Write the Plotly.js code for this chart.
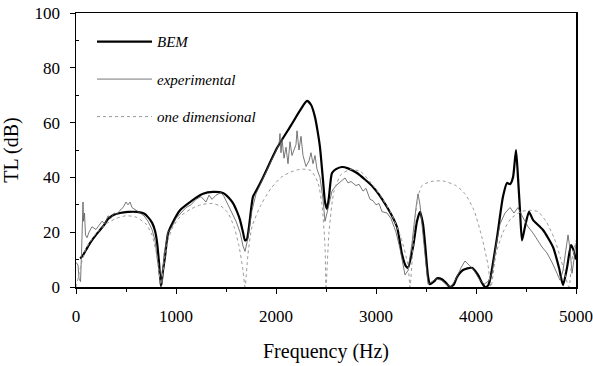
<!DOCTYPE html>
<html>
<head>
<meta charset="utf-8">
<script src="https://cdn.plot.ly/plotly-3.0.1.min.js"></script>
<style>html,body{margin:0;padding:0;background:#fff;}#chart{width:593px;height:366px;}</style>
</head>
<body>
<div id="chart"></div>
<script>
// BEM prediction
var bemFreq = [40,60,100,140,200,240,280,320,370,440,520,610,680,720,760,790,810,830,850,870,890,920,970,1040,1140,1270,1370,1470,1530,1570,1610,1640,1670,1690,1710,1730,1770,1800,1870,2010,2150,2250,2310,2350,2390,2420,2440,2470,2490,2510,2530,2560,2600,2660,2720,2810,2970,3110,3210,3260,3300,3320,3370,3410,3440,3470,3490,3520,3540,3580,3610,3660,3700,3740,3780,3810,3870,3960,4020,4060,4090,4120,4140,4210,4270,4310,4340,4370,4400,4420,4440,4460,4490,4530,4570,4670,4770,4830,4870,4910,4950,4970,5000];
var bemTL   = [10.5,11,13.5,16,19,20.8,22.6,24.8,26.2,27,27.4,27.4,26.8,25.5,23.5,20.5,16.5,9,0,6,11,19.5,23.7,28,31,34,34.7,34.3,32.5,30.6,27.5,24.5,20,17,17.5,22,33,35,40,50.7,59,65,67.9,66.5,62,56,51,39,31,28.5,33,41.6,43,43.8,43.3,41.6,36.5,29.2,21.9,12,7.5,7,14.6,24,27.4,23,16,4,1,2,3.2,2.8,1.5,0,1,3.6,6.2,7,4.4,1.5,0,0.5,2.6,18,33,38,37.5,40,50,40,28,17,22,27.4,24.5,20.8,14.6,7,0.7,7,15.3,14,10];

// experimental
var expFreq = [0,20,30,45,55,65,70,75,85,95,110,130,160,200,230,260,290,320,350,380,410,440,470,500,520,540,560,600,640,680,720,760,790,820,845,860,880,920,960,1000,1050,1100,1150,1200,1250,1300,1330,1360,1400,1450,1480,1520,1560,1600,1640,1670,1690,1720,1760,1800,1850,1900,1950,2000,2030,2040,2050,2060,2080,2100,2120,2140,2160,2200,2210,2230,2250,2270,2300,2330,2350,2370,2390,2410,2440,2470,2490,2510,2540,2560,2600,2650,2690,2720,2750,2800,2830,2870,2900,2940,2970,3000,3030,3060,3110,3150,3200,3240,3270,3290,3320,3360,3400,3420,3440,3470,3500,3520,3560,3600,3650,3700,3750,3800,3850,3890,3930,3980,4030,4080,4120,4160,4200,4240,4290,4340,4380,4420,4460,4520,4570,4620,4660,4710,4760,4810,4840,4870,4900,4920,4940,4960,4980,5000];
var expTL   = [9,8,3,2,12,28,31,24,27,19,18,20,22,21,22.5,24,23,26,25,27,26.5,28,29,31,30,31,29,28,27,26,24,21,17,9,1,2,12,20,22,25,27,29,30,32,33,31,33.5,32,33.5,34.5,33,30,27,24,20,15,13,18,28,34,38,42,46,50,52,56,49,54,47,51,45,53,48,52,57,50,55,48,44,46,49,45,48,43,40,32,24,27,32,35,37,38.5,39.8,38,38.5,37,37.5,35,36,32,31.5,30,30.5,27.5,27,25,20,14,8,4.4,6,16,29,34,30,20,8,1,2,3,2.5,1,0,3,7,9.5,8,6,3,1,2,5,15,23,27,29,27,29,26,22,19.7,17,14.6,12.4,9,5,2.5,6,13,19,14,5,10,16];

// one dimensional theory
var oneFreq = [0,50,100,200,300,400,500,600,700,760,800,830,850,880,920,970,1050,1150,1250,1350,1450,1520,1580,1630,1670,1690,1720,1760,1850,1950,2050,2150,2250,2350,2420,2460,2490,2500,2530,2580,2650,2750,2850,2950,3050,3150,3250,3320,3340,3380,3420,3460,3550,3670,3800,3890,3980,4060,4120,4150,4200,4270,4350,4450,4530,4620,4700,4780,4850,4900,4930,4960,5000];
var oneTL   = [0,8,14,19.5,23,25,26,25.5,23,19,13,6,0,9,17,22,26,28.5,30,30.5,29.5,27,22,15,6,0,12,22,30,36,40,42,43,42.5,38,30,15,0,20,35,41,43,42,38,33,27,18,8,0,20,33,37,38.5,38.7,37,34,28,18,8,0,12,20,25,27.5,28,27.5,24,18,10,3,0,10,17];

var serif = "Liberation Serif, Times New Roman, DejaVu Serif, serif";

var traces = [
  {x: bemFreq, y: bemTL, mode: 'lines', name: 'BEM', legendgroup: 'a',
   line: {color: '#000000', width: 2.2, shape: 'spline', smoothing: 0.6}},
  {x: expFreq, y: expTL, mode: 'lines', name: 'experimental', legendgroup: 'b',
   line: {color: '#555555', width: 0.8}},
  {x: oneFreq, y: oneTL, mode: 'lines', name: 'one dimensional', legendgroup: 'c',
   line: {color: '#9a9a9a', width: 1, dash: 'dot', shape: 'spline', smoothing: 0.6}}
];

var layout = {
  width: 593, height: 366,
  margin: {l: 76, r: 17, t: 13, b: 79},
  paper_bgcolor: '#ffffff', plot_bgcolor: '#ffffff',
  font: {family: serif, size: 14, color: '#000'},
  showlegend: true,
  legend: {x: 0.032, y: 0.955, xanchor: 'left', yanchor: 'top', bgcolor: 'rgba(0,0,0,0)',
           font: {family: serif, size: 15, style: 'italic'}, tracegroupgap: 15, itemwidth: 55},
  xaxis: {
    range: [0, 5000], tickvals: [0,1000,2000,3000,4000,5000],
    ticks: 'outside', ticklen: 5, tickwidth: 1, tickcolor: '#000',
    minor: {tickvals: [500,1500,2500,3500,4500], ticks: 'outside', ticklen: 3, tickcolor: '#000'},
    showgrid: false, zeroline: false, showline: true, linecolor: '#000', linewidth: 1.5, mirror: true,
    tickfont: {family: serif, size: 17}, ticklabelstandoff: 8,
    title: {text: 'Frequency (Hz)', font: {family: serif, size: 20}, standoff: 19}
  },
  yaxis: {
    range: [0, 100], tickvals: [0,20,40,60,80,100],
    ticks: 'outside', ticklen: 5, tickwidth: 1, tickcolor: '#000',
    minor: {tickvals: [10,30,50,70,90], ticks: 'inside', ticklen: 3, tickcolor: '#000'},
    showgrid: false, zeroline: false, showline: true, linecolor: '#000', linewidth: 1.5, mirror: true,
    tickfont: {family: serif, size: 17}, ticklabelstandoff: 6,
    title: {text: 'TL (dB)', font: {family: serif, size: 20}, standoff: 10}
  }
};

Plotly.newPlot('chart', traces, layout, {staticPlot: true, displayModeBar: false});
</script>
</body>
</html>
